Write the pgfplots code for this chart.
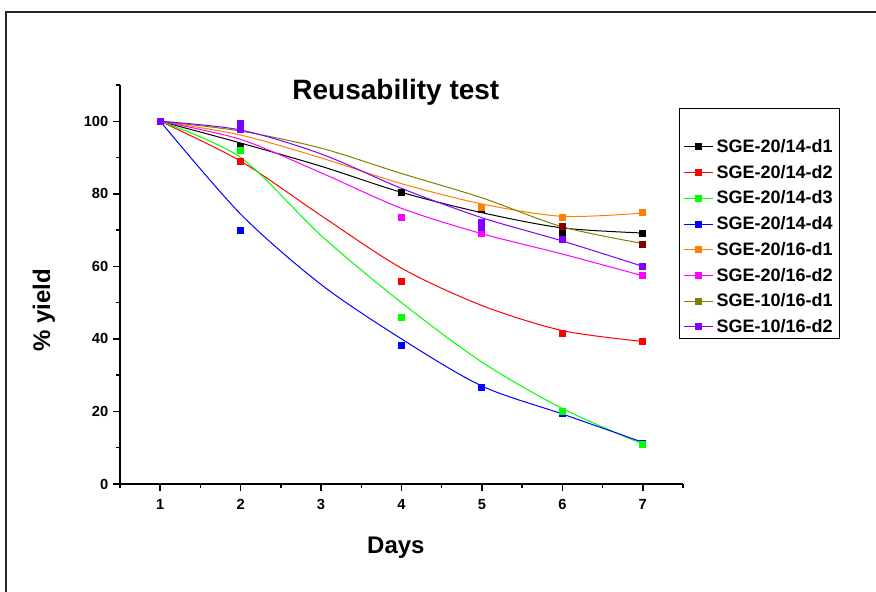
\documentclass[border=0pt]{standalone}
\usepackage{fontspec}
\setmainfont{Liberation Sans}
\usepackage{pgfplots}
\pgfplotsset{compat=1.18}
\definecolor{cOrange}{RGB}{255,128,0}
\definecolor{cOlive}{RGB}{128,128,0}
\definecolor{cPurple}{RGB}{128,0,255}
\definecolor{cGreen}{RGB}{0,255,0}
\definecolor{cMaroon}{RGB}{128,0,0}
\definecolor{cMagenta}{RGB}{255,0,255}
\definecolor{cRed}{RGB}{255,0,0}
\definecolor{cBlue}{RGB}{0,0,255}
\begin{document}
\begin{tikzpicture}
\useasboundingbox (0,0) rectangle (657pt,-444pt);
\draw[line width=1.3pt, black!85] (4.5pt,-9pt) rectangle (720pt,-480pt);
\begin{axis}[
  at={(90pt,-363pt)}, anchor=south west,
  scale only axis, width=422.25pt, height=299.25pt,
  xmin=0.5, xmax=7.5, ymin=0, ymax=110,
  axis x line*=bottom, axis y line*=left,
  axis line style={line width=1.4pt, black},
  xtick={1,...,7}, minor xtick={0.5,1.5,...,7.5},
  ytick={0,20,...,100}, minor ytick={10,30,...,110},
  tick align=outside,
  major tick length=5.25pt, minor tick length=3pt,
  every tick/.style={line width=1.1pt, black},
  /pgf/number format/assume math mode=true,
  ticklabel style={font=\fontsize{11}{12}\selectfont\bfseries},
  xticklabel style={yshift=-3pt},
  title={Reusability test},
  title style={at={(0.49,0.962)}, anchor=center, font=\fontsize{21}{24}\selectfont\bfseries},
  xlabel={Days},
  xlabel style={at={(0.49,-0.16)}, anchor=center, font=\fontsize{18}{21}\selectfont\bfseries},
  ylabel={\% yield},
  ylabel style={at={(-0.135,0.436)}, anchor=center, font=\fontsize{18}{21}\selectfont\bfseries},
  legend style={at={(0.993,0.942)}, anchor=north west, draw=black, line width=0.9pt,
    font=\fontsize{13.5}{15}\selectfont\bfseries, row sep=4pt, inner xsep=3pt, inner ysep=1pt},
  legend cell align=left,
  legend image code/.code={\draw[mark repeat=2,mark phase=2,#1] plot coordinates {(0pt,0pt) (11pt,0pt) (22pt,0pt)};},
  every axis plot/.append style={line width=0.75pt},
  mark size=2.25pt,
]
\addlegendimage{empty legend}\addlegendentry{\strut}
\addlegendimage{black, mark=square*}\addlegendentry{SGE-20/14-d1}
\addlegendimage{cRed, mark=square*}\addlegendentry{SGE-20/14-d2}
\addlegendimage{cGreen, mark=square*}\addlegendentry{SGE-20/14-d3}
\addlegendimage{cBlue, mark=square*}\addlegendentry{SGE-20/14-d4}
\addlegendimage{cOrange, mark=square*}\addlegendentry{SGE-20/16-d1}
\addlegendimage{cMagenta, mark=square*}\addlegendentry{SGE-20/16-d2}
\addlegendimage{cOlive, mark=square*}\addlegendentry{SGE-10/16-d1}
\addlegendimage{cPurple, mark=square*}\addlegendentry{SGE-10/16-d2}
% fitted curves
\addplot[black, smooth, forget plot] coordinates {(1,100)(2,94)(3,87.6)(4,80.4)(5,74.8)(6,70.6)(7,69.2)};
\addplot[cRed, smooth, forget plot] coordinates {(1,100)(2,89)(3,74)(4,59.5)(5,49.2)(6,42.3)(7,39.3)};
\addplot[cGreen, smooth, forget plot] coordinates {(1,100)(2,90)(3,68.5)(4,50)(5,33.6)(6,20.8)(7,11)};
\addplot[cBlue, smooth, forget plot] coordinates {(1,100)(2,74.4)(3,55)(4,40)(5,27)(6,19.3)(7,11.5)};
\addplot[cOrange, smooth, forget plot] coordinates {(1,100)(2,96.2)(3,89.9)(4,82.8)(5,77.2)(6,73.8)(7,74.7)};
\addplot[cMagenta, smooth, forget plot] coordinates {(1,100)(2,95)(3,85.8)(4,76)(5,69)(6,63.4)(7,57.4)};
\addplot[cOlive, smooth, forget plot] coordinates {(1,100)(2,97.3)(3,92.6)(4,85.6)(5,78.9)(6,70.9)(7,66.3)};
\addplot[cPurple, smooth, forget plot] coordinates {(1,100)(2,97.6)(3,91)(4,81.5)(5,73.4)(6,67)(7,60)};
% data points
\addplot[only marks, mark=square*, black, forget plot] coordinates {(1,100)(2,93)(4,80.3)(5,75.8)(6,69.3)(7,69.1)};
\addplot[only marks, mark=square*, cRed, forget plot] coordinates {(1,100)(2,89)(4,55.8)(6,41.4)(7,39.3)};
\addplot[only marks, mark=square*, cBlue, forget plot] coordinates {(1,100)(2,69.8)(4,38.2)(5,26.7)(6,19.5)(7,11.3)};
\addplot[only marks, mark=square*, cGreen, forget plot] coordinates {(1,100)(2,92)(4,46)(6,20)(7,11)};
\addplot[only marks, mark=square*, cOrange, forget plot] coordinates {(1,100)(5,76.2)(6,73.4)(7,74.8)};
\addplot[only marks, mark=square*, cMagenta, forget plot] coordinates {(1,100)(4,73.6)(5,69)(7,57.4)};
\addplot[only marks, mark=square*, cPurple, forget plot] coordinates {(1,100)(2,99.3)(2,97.6)(5,72)(5,70.6)(6,67.5)(7,60)};
\addplot[only marks, mark=square*, cMaroon, forget plot] coordinates {(6,71)(7,66)};
\end{axis}
\end{tikzpicture}
\end{document}
